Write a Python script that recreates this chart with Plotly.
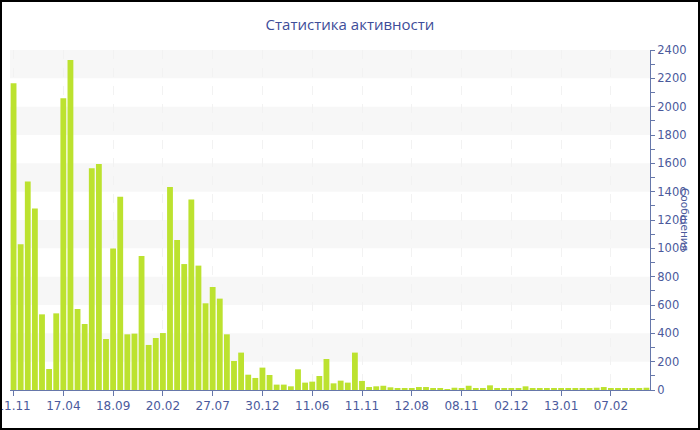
import plotly.graph_objects as go

# activity per period (messages)
values = [
    2165, 1028, 1471, 1282, 534, 148, 541, 2059, 2329, 572,
    466, 1565, 1595, 360, 998, 1365, 393, 398, 946, 318,
    367, 402, 1433, 1059, 889, 1344, 878, 612, 727, 645,
    393, 205, 264, 108, 85, 158, 106, 38, 38, 26,
    146, 52, 59, 99, 219, 47, 66, 52, 264, 64,
    21, 26, 30, 19, 14, 14, 9, 21, 21, 9,
    9, 5, 16, 12, 30, 9, 9, 33, 12, 12,
    14, 9, 26, 9, 9, 9, 9, 9, 9, 9,
    9, 9, 16, 21, 12, 9, 9, 9, 9, 16,
]
tick_labels = ["11.11", "17.04", "18.09", "20.02", "27.07", "30.12", "11.06",
               "11.11", "12.08", "08.11", "02.12", "13.01", "07.02"]
tick_step = 7

blue = "#4b5a9c"
x = list(range(len(values)))

fig = go.Figure()
fig.add_trace(go.Bar(x=x, y=values, marker_color="#bce22f",
                     marker_line_width=0, hoverinfo="skip", showlegend=False))

# alternating grey bands
for lo in range(200, 2400, 400):
    fig.add_shape(type="rect", xref="paper", yref="y", x0=0, x1=1, y0=lo, y1=lo + 200,
                  fillcolor="#f7f7f7", line_width=0, layer="below")

# outer frame
fig.add_shape(type="rect", xref="paper", yref="paper",
              x0=(1 - 10) / 640, x1=(699 - 10) / 640,
              y0=(390 - 429) / 340, y1=(390 - 1) / 340,
              line=dict(color="black", width=2))

fig.add_annotation(text="Сообщения", xref="paper", yref="paper",
                   x=(693 - 10) / 640, y=(390 - 219) / 340, textangle=90,
                   showarrow=False, font=dict(family="DejaVu Sans", size=10.5, color=blue))

fig.update_xaxes(
    range=[-0.5, len(values) - 0.5],
    tickmode="array",
    tickvals=[i * tick_step for i in range(len(tick_labels))],
    ticktext=tick_labels,
    ticks="outside", ticklen=5, tickcolor="#6677aa",
    showline=True, linecolor="#6677aa", linewidth=1,
    showgrid=True, gridcolor="#f2f2f2", griddash="dash",
    zeroline=False, fixedrange=True, automargin=False,
    ticklabeloverflow="allow",
    tickfont=dict(family="DejaVu Sans", size=12, color=blue),
)
fig.update_yaxes(
    side="right", range=[0, 2400], dtick=200,
    ticks="outside", ticklen=4, tickcolor="#6677aa",
    minor=dict(dtick=100, ticks="outside", ticklen=4, tickcolor="#6677aa"),
    showline=True, linecolor="#6677aa", linewidth=1,
    showgrid=False, zeroline=False, fixedrange=True, automargin=False,
    tickfont=dict(family="DejaVu Sans", size=11.5, color=blue),
)

fig.update_layout(
    width=700, height=430,
    margin=dict(l=10, r=50, t=50, b=40, autoexpand=False),
    paper_bgcolor="white", plot_bgcolor="white",
    bargap=0.18,
    title=dict(text="Статистика активности", x=0.5, xanchor="center",
               y=1 - 25 / 430, yanchor="middle",
               font=dict(family="Open Sans", size=15, color="#3e4d99")),
)

# page body has a default 8px margin; drop it so the chart sits at the corner
fig.write_html("out.html", config={"displayModeBar": False},
               post_script="document.body.style.margin='0';")
